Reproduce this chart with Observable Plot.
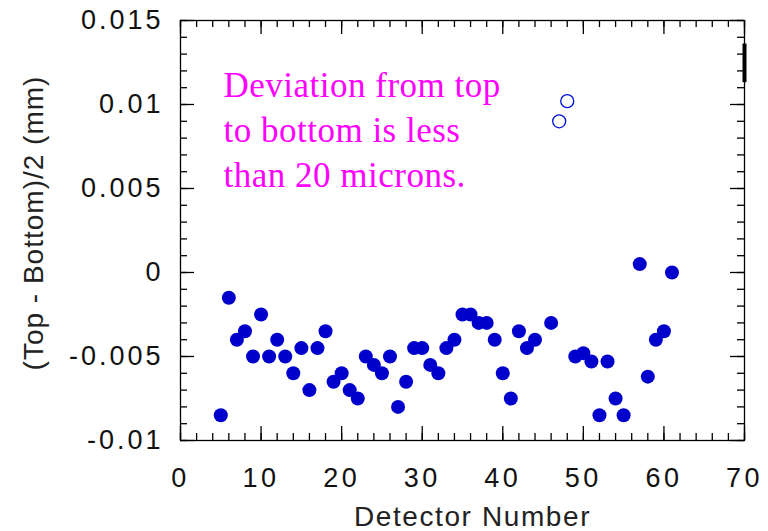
<!DOCTYPE html>
<html><head><meta charset="utf-8">
<script src="https://cdn.jsdelivr.net/npm/d3@7"></script>
<script src="https://cdn.jsdelivr.net/npm/@observablehq/plot@0.6"></script>
<style>
html,body{margin:0;padding:0;background:#fff;}
g[aria-label="x-axis tick label"]{letter-spacing:3.5px;}
g[aria-label="y-axis tick label"]{letter-spacing:3px;}
</style></head><body><div id="chart"></div>
<script>
// ---- data ----
const detectors = [5,6,7,8,9,10,11,12,13,14,15,16,17,18,19,20,21,22,23,24,25,26,27,28,29,30,31,32,33,34,35,36,37,38,39,40,41,42,43,44,46,49,50,51,52,53,54,55,57,58,59,60,61];
const deviation = [-0.0085,-0.0015,-0.004,-0.0035,-0.005,-0.0025,-0.005,-0.004,-0.005,-0.006,-0.0045,-0.007,-0.0045,-0.0035,-0.0065,-0.006,-0.007,-0.0075,-0.005,-0.0055,-0.006,-0.005,-0.008,-0.0065,-0.0045,-0.0045,-0.0055,-0.006,-0.0045,-0.004,-0.0025,-0.0025,-0.003,-0.003,-0.004,-0.006,-0.0075,-0.0035,-0.0045,-0.004,-0.003,-0.005,-0.0048,-0.0053,-0.0085,-0.0053,-0.0075,-0.0085,0.0005,-0.0062,-0.004,-0.0035,0.0];
const outlierDetectors = [47, 48];
const outlierDeviation = [0.009, 0.0102];
const barX = [70];
const barLow = [0.0113];
const barHigh = [0.0136];
const xTicks = [0,10,20,30,40,50,60,70];
const xMinor = [0,2,4,6,8,10,12,14,16,18,20,22,24,26,28,30,32,34,36,38,40,42,44,46,48,50,52,54,56,58,60,62,64,66,68,70];
const yTicks = [-0.01,-0.005,0,0.005,0.01,0.015];
const yMinor = [-0.01,-0.009,-0.008,-0.007,-0.006,-0.005,-0.004,-0.003,-0.002,-0.001,0,0.001,0.002,0.003,0.004,0.005,0.006,0.007,0.008,0.009,0.01,0.011,0.012,0.013,0.014,0.015];
const noteText = "Deviation from top\nto bottom is less\nthan 20 microns.";
const xTitle = "Detector Number";
const yTitle = "(Top - Bottom)/2 (mm)";

// ---- layout ----
const W = 768, H = 531;
const mL = 180, mR = 24, mT = 20, mB = 91;
const pW = W - mL - mR, pH = H - mT - mB;
const tickStyle = {stroke: "black", strokeWidth: 1.3};

const chart = Plot.plot({
  width: W, height: H,
  marginLeft: mL, marginRight: mR, marginTop: mT, marginBottom: mB,
  style: {fontFamily: "'Liberation Sans', Arial, sans-serif", background: "white", color: "#111", overflow: "visible"},
  x: {domain: [0, 70]},
  y: {domain: [-0.01, 0.015]},
  marks: [
    Plot.frame({stroke: "black", strokeWidth: 1.3}),
    // inward ticks on all four sides
    Plot.tickX(xMinor, {x: d => d, insetTop: pH - 7, ...tickStyle}),
    Plot.tickX(xMinor, {x: d => d, insetBottom: pH - 7, ...tickStyle}),
    Plot.tickX(xTicks, {x: d => d, insetTop: pH - 14, ...tickStyle}),
    Plot.tickX(xTicks, {x: d => d, insetBottom: pH - 14, ...tickStyle}),
    Plot.tickY(yMinor, {y: d => d, insetRight: pW - 7, ...tickStyle}),
    Plot.tickY(yMinor, {y: d => d, insetLeft: pW - 7, ...tickStyle}),
    Plot.tickY(yTicks, {y: d => d, insetRight: pW - 14, ...tickStyle}),
    Plot.tickY(yTicks, {y: d => d, insetLeft: pW - 14, ...tickStyle}),
    Plot.axisX({ticks: xTicks, tickSize: 0, tickPadding: 27, fontSize: 27, tickFormat: d => String(d), label: null, fill: "#111"}),
    Plot.axisY({ticks: yTicks, tickSize: 0, tickPadding: 17, fontSize: 27, tickFormat: d => String(d), label: null, fill: "#111"}),
    Plot.ruleX(barX, {x: d => d, y1: (d, i) => barLow[i], y2: (d, i) => barHigh[i], stroke: "black", strokeWidth: 4}),
    Plot.dot(detectors, {x: d => d, y: (d, i) => deviation[i], r: 7, fill: "#0000CC", stroke: "none"}),
    Plot.dot(outlierDetectors, {x: d => d, y: (d, i) => outlierDeviation[i], r: 6.5, fill: "none", stroke: "#0010DD", strokeWidth: 1.3}),
    Plot.text([noteText], {text: d => d, frameAnchor: "top-left", textAnchor: "start", lineAnchor: "top", dx: 43, dy: 44, fontSize: 35, lineHeight: 1.29, fontFamily: "'Liberation Serif', 'Times New Roman', serif", fill: "#FF00FF"}),
    Plot.text([xTitle], {text: d => d, frameAnchor: "bottom", textAnchor: "middle", lineAnchor: "middle", dx: 10, dy: 77, fontSize: 28, fill: "#222"}),
    Plot.text([yTitle], {text: d => d, frameAnchor: "left", textAnchor: "middle", lineAnchor: "middle", rotate: -90, dx: -146, dy: -7.5, fontSize: 28, fill: "#222"})
  ]
});
// letter spacing for the three text marks (note, x title, y title), in mark order
const spacing = ["0.5px", "1.6px", "1px"];
d3.select(chart).selectAll('g[aria-label="text"]').each(function(d, i) {
  if (i < spacing.length) this.style.letterSpacing = spacing[i];
});
document.getElementById("chart").appendChild(chart);
</script>
</body></html>
